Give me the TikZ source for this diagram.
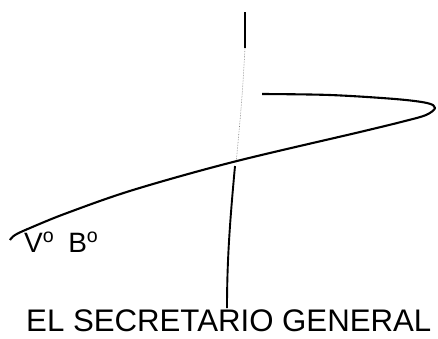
\documentclass[tikz,border=0pt]{standalone}
\usepackage{fontspec}
\setmainfont{Liberation Sans}
\begin{document}
\begin{tikzpicture}[x=1pt, y=-1pt]
      \useasboundingbox (0, 0) rectangle (438, 338);
      \draw [line width=2.4pt] (245, 12) -- (245, 48);
      \draw [gray, densely dotted, line width=0.6pt] (245, 48) .. controls (242, 100) .. (236, 164);
      \draw [line width=1.9pt] (235, 166) .. controls (230, 220) and (227, 260) .. (227, 308);
      \draw [line width=2.1pt, line join=round] plot [smooth, tension=0.55] coordinates
        {(262, 94) (330, 95) (395, 99) (427, 103) (435, 108) (426, 115) (405, 121)
         (360, 132) (233, 162) (133, 190) (67, 213) (30, 228) (15, 235) (10, 240)};
      \node (vobo) [anchor=base west, inner sep=0pt, font=\fontsize{28}{28}\selectfont]
        at (24, 252) {V\textsuperscript{o}\hspace{0.5em}B\textsuperscript{o}};
      \node (cargo) [anchor=base west, inner sep=0pt, font=\fontsize{31.2}{32}\selectfont]
        at (26, 331.5) {EL SECRETARIO GENERAL};
    \end{tikzpicture}
\end{document}
